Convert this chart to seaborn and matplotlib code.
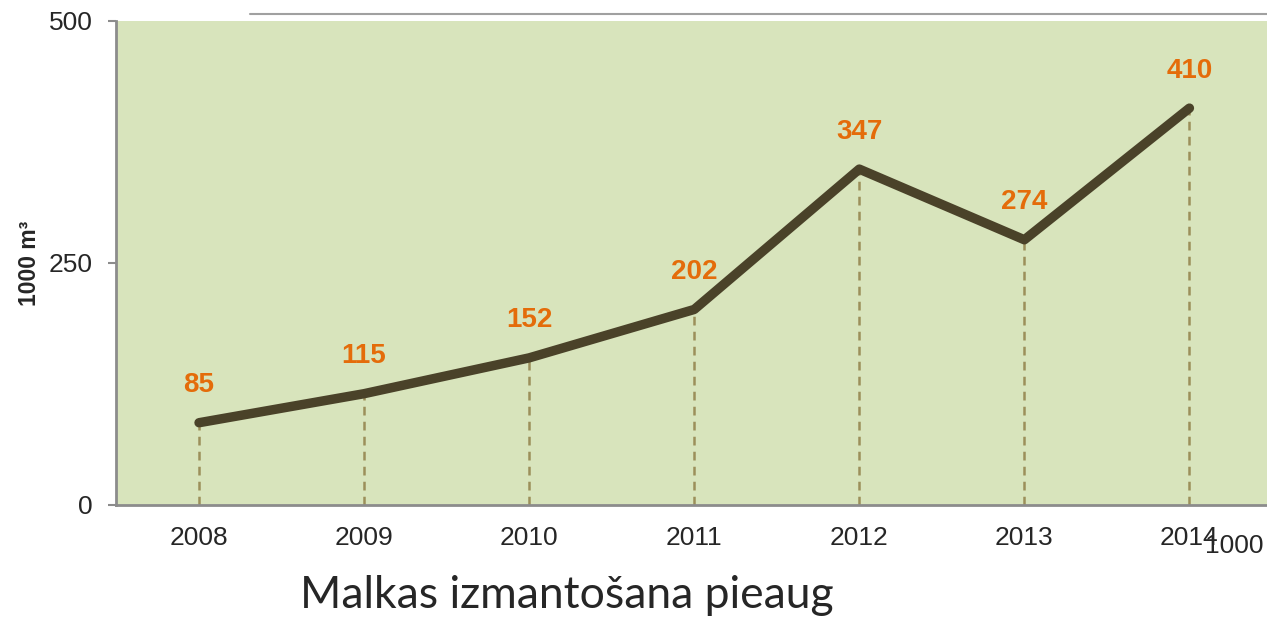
import matplotlib
matplotlib.use("Agg")
import matplotlib.pyplot as plt
from matplotlib.lines import Line2D
import pandas as pd
import seaborn as sns

# Data
years = ["2008", "2009", "2010", "2011", "2012", "2013", "2014"]
values = [85, 115, 152, 202, 347, 274, 410]
y_ticks = [0, 250, 500]

df = pd.DataFrame({"year": years, "value": values})
df["pos"] = range(len(df))

sns.set_style("white")
plt.rcParams["font.family"] = ["Liberation Sans", "DejaVu Sans"]

fig = plt.figure(figsize=(12.67, 6.21), dpi=100)
ax = fig.add_axes([116 / 1267, 1 - 505 / 621, 1 - 116 / 1267, (505 - 21) / 621])
ax.set_facecolor("#D8E4BC")

# dashed drop lines
ax.vlines(df["pos"], 0, df["value"], colors="#9C8F5A", linestyles=(0, (3.5, 2.5)),
          linewidth=1.8, zorder=2)

sns.lineplot(data=df, x="pos", y="value", ax=ax, color="#4A4229",
             linewidth=6.8, solid_capstyle="round", solid_joinstyle="round", zorder=3)

for x, v in zip(df["pos"], df["value"]):
    ax.annotate(str(v), (x, v), xytext=(0, 27), textcoords="offset points",
                ha="center", va="center", fontsize=20, fontweight="bold",
                color="#E46C0A")

ax.set_xlim(-0.503, 6.47)
ax.set_ylim(0, 500)
ax.set_xticks(df["pos"])
ax.set_xticklabels(years)
ax.set_yticks(y_ticks)
ax.tick_params(axis="x", length=0, pad=15, labelsize=19)
ax.tick_params(axis="y", length=6, width=1.5, color="#8C8C8C", pad=11, labelsize=19,
               left=True)
ax.set_xlabel("")
ax.set_ylabel("1000 m³", fontsize=16.5, fontweight="bold", labelpad=5)

for side in ["top", "right"]:
    ax.spines[side].set_visible(False)
for side in ["left", "bottom"]:
    ax.spines[side].set_color("#8C8C8C")
    ax.spines[side].set_linewidth(2)

# thin grey rule above the plot
fig.add_artist(Line2D([250 / 1267, 1.0], [1 - 14 / 621, 1 - 14 / 621],
                      color="#A0A0A0", linewidth=1.5))

# stray axis-unit label, overlapping "2014" as in the original
fig.text(1205 / 1267, 1 - 546 / 621, "1000", fontsize=19, ha="left", va="center")
fig.text(567 / 1267, 1 - 596 / 621, "Malkas izmantošana pieaug", fontsize=32,
         ha="center", va="center", family=["Lato", "DejaVu Sans"])

fig.savefig("out.png", dpi=100)
